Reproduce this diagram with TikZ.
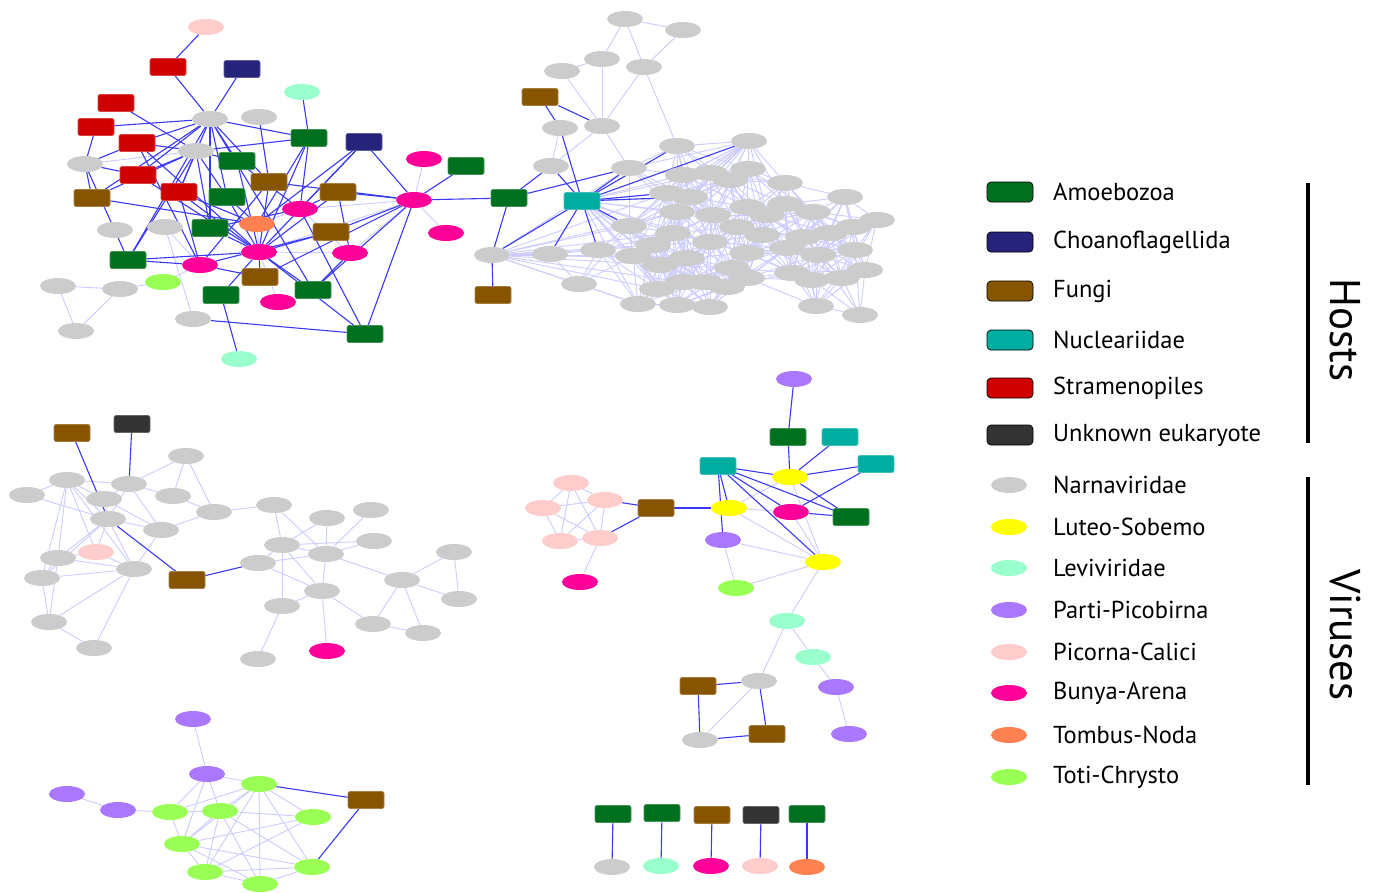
\documentclass[tikz,border=0pt]{standalone}
\usepackage{fontspec}
\setmainfont{PT Sans}
\usetikzlibrary{backgrounds,shapes.geometric}
\definecolor{hamoe}{HTML}{00701E}
\definecolor{hchoa}{HTML}{25247A}
\definecolor{hfungi}{HTML}{875400}
\definecolor{hnucl}{HTML}{00ADA0}
\definecolor{hstram}{HTML}{D10000}
\definecolor{hunk}{HTML}{333333}
\definecolor{vnarna}{HTML}{CCCCCC}
\definecolor{vluteo}{HTML}{FFFF00}
\definecolor{vlevi}{HTML}{99FFCC}
\definecolor{vparti}{HTML}{AA77FF}
\definecolor{vpicor}{HTML}{FFCCCC}
\definecolor{vbunya}{HTML}{FF0099}
\definecolor{vtombus}{HTML}{FF8050}
\definecolor{vtoti}{HTML}{99FF55}
\definecolor{edark}{HTML}{3A3AF5}
\definecolor{elight}{HTML}{CCCCFF}
\tikzset{
  host/.style={rectangle,rounded corners=2pt,minimum width=36pt,minimum height=17pt,inner sep=0pt,draw=#1!75!white,fill=#1,line width=0.6pt},
  vir/.style={ellipse,minimum width=36pt,minimum height=16pt,inner sep=0pt,fill=#1},
  dl/.style={draw=edark,line width=1.1pt},
  ll/.style={draw=elight,line width=0.9pt},
  keyh/.style={rectangle,rounded corners=4pt,minimum width=46pt,minimum height=20pt,inner sep=0pt,draw=black,line width=0.7pt,fill=#1},
  keyv/.style={ellipse,minimum width=36pt,minimum height=16pt,inner sep=0pt,fill=#1},
  keyt/.style={anchor=west,font=\fontsize{24.5}{28}\selectfont,inner sep=0pt},
  bar/.style={draw=black,line width=3.5pt},
  grp/.style={font=\fontsize{43}{48}\selectfont,rotate=-90,inner sep=0pt},
}
\def\cloud{677/146,749/141,629/168,748/169,683/175,710/173,730/180,785/183,667/193,690/197,845/197,677/212,713/215,747/207,785/204,767/215,813/212,877/220,629/226,737/227,762/235,803/237,830/233,853/227,673/233,653/245,710/242,598/250,633/256,747/253,787/248,818/255,855/250,660/265,687/258,732/268,747/278,792/273,812/280,842/278,865/270,657/289,683/282,705/282,727/287,638/304,677/305,710/307,816/306,860/315,550/254,579/284}

\begin{document}
\begin{tikzpicture}[x=1pt,y=-1pt]
  \useasboundingbox (0,0) rectangle (1379,892);
  \foreach \nm/\px/\py in {a1/237/161,a2/227/197,a3/309/138,a4/466/166,a5/210/228,a6/128/260,a7/221/295,a8/313/290,a9/365/334,a10/509/198,a11/788/437,a12/851/517,a13/613/814,a14/662/813,a15/807/814}
    \node[host=hamoe] (\nm) at (\px,\py) {};
  \foreach \nm/\px/\py in {c1/242/69,c2/364/142}
    \node[host=hchoa] (\nm) at (\px,\py) {};
  \foreach \nm/\px/\py in {f1/92/198,f2/269/182,f3/338/192,f4/331/232,f5/260/277,f6/540/97,f7/493/295,f8/72/433,f9/187/580,f10/656/508,f11/698/686,f12/767/734,f13/366/800,f14/712/815}
    \node[host=hfungi] (\nm) at (\px,\py) {};
  \foreach \nm/\px/\py in {nu1/582/201,nu2/840/437,nu3/718/466,nu4/876/464}
    \node[host=hnucl] (\nm) at (\px,\py) {};
  \foreach \nm/\px/\py in {s1/168/67,s2/116/103,s3/96/127,s4/137/143,s5/138/175,s6/179/192}
    \node[host=hstram] (\nm) at (\px,\py) {};
  \foreach \nm/\px/\py in {un1/132/424,un2/761/815}
    \node[host=hunk] (\nm) at (\px,\py) {};

  \foreach \nm/\px/\py in {n1/210/119,n2/196/151,n3/85/164,n4/259/117,n5/115/230,n6/165/227,n7/58/286,n8/120/289,n9/76/331,n10/193/319,
      u1/625/19,u2/683/30,u3/602/59,u4/644/67,u5/562/71,u6/560/128,u7/602/126,u8/551/166,u9/492/255,
      m1/186/456,m2/67/480,m3/129/484,m4/27/495,m5/104/499,m6/173/496,m7/214/512,m8/108/519,m9/161/530,m10/58/558,
      m11/134/569,m12/42/578,m13/49/622,m14/94/648,m15/274/505,m16/327/518,m17/371/510,m18/282/545,m19/374/541,m20/326/554,
      m21/258/563,m22/454/552,m23/402/580,m24/322/591,m25/459/599,m26/282/606,m27/373/624,m28/423/633,m29/258/659,
      d1/759/681,d2/700/740,w1/612/867}
    \node[vir=vnarna] (\nm) at (\px,\py) {};
  \foreach \px/\py [count=\i] in \cloud
    \node[vir=vnarna] (k\i) at (\px,\py) {};
  \foreach \nm/\px/\py in {y1/790/477,y2/729/508,y3/823/562}
    \node[vir=vluteo] (\nm) at (\px,\py) {};
  \foreach \nm/\px/\py in {l1/302/92,l2/239/359,l3/787/621,l4/813/657,w2/661/866}
    \node[vir=vlevi] (\nm) at (\px,\py) {};
  \foreach \nm/\px/\py in {v1/794/379,v2/723/540,v3/836/687,v4/849/734,v5/193/719,v6/207/774,v7/67/794,v8/118/810}
    \node[vir=vparti] (\nm) at (\px,\py) {};
  \foreach \nm/\px/\py in {p1/206/27,p2/96/552,pc1/571/483,pc2/605/500,pc3/543/508,pc4/560/541,pc5/600/538,w4/760/866}
    \node[vir=vpicor] (\nm) at (\px,\py) {};
  \foreach \nm/\px/\py in {b1/424/159,b2/414/200,b3/300/209,b4/446/233,b5/259/252,b6/350/253,b7/200/265,b8/278/302,b9/327/651,b10/791/512,b11/580/582,w3/711/866}
    \node[vir=vbunya] (\nm) at (\px,\py) {};
  \foreach \nm/\px/\py in {t1/257/224,w5/807/867}
    \node[vir=vtombus] (\nm) at (\px,\py) {};
  \foreach \nm/\px/\py in {g1/163/282,g2/736/588,e1/259/784,e2/170/812,e3/220/811,e4/313/817,e5/182/844,e6/205/872,e7/312/867,e8/260/884}
    \node[vir=vtoti] (\nm) at (\px,\py) {};

  \begin{pgfonlayer}{background}
    \fill[white] (0,0) rectangle (1379,892);
    \foreach \ax/\ay [count=\i] in \cloud {
      \foreach \bx/\by [count=\j] in \cloud {
        \pgfmathtruncatemacro\near{(\i<\j)&&(veclen(\ax-\bx,\ay-\by)<78)}
        \ifnum\near=1 \draw[ll] (k\i) -- (k\j);\fi
      }
    }
    \foreach \i in {51,28,19,26,29,34,25,3,9,12,35,42,46,52,43}
      \draw[ll] (u9) -- (k\i);
    \foreach \i in {5,6,9,10,12,13,25,26,27,29,34,35,42,43,44,46,47}
      \draw[ll] (nu1) -- (k\i);
    \foreach \i in {3,5,6,9,10,12,13,19,25}
      \draw[ll] (k2) -- (k\i);
    \foreach \ea/\eb in {n1/n2,n2/n3,n7/n8,n7/n9,n9/n8,n8/g1,g1/b7,n6/n10,n6/b7,t1/b5,b3/b5,b5/b6,b2/b3,b2/b5,b6/b2,b1/b2,b4/b2,b8/b5,t1/b3,b3/b6,
        u1/u2,u1/u3,u1/u4,u2/u4,u3/u5,u3/u7,u5/u7,u4/u7,u4/k1,u7/u8,u6/u8,u7/k3,u9/k51,
        m2/m4,m2/m3,m2/m5,m2/m8,m2/m10,m2/m12,m2/p2,m2/m11,m4/m8,m3/m1,m3/m6,m3/m5,m3/m9,m3/m8,m1/m6,m1/m7,m6/m7,m7/m9,m5/m8,m5/m9,
        m8/m9,m8/m10,m8/m11,m8/p2,m8/m12,p2/m10,p2/m11,m10/m11,m10/m12,m12/m11,m10/m13,m12/m13,m13/m11,m13/m14,m14/m11,m11/m9,
        m7/m15,m15/m18,m15/m20,m16/m18,m16/m20,m17/m20,m18/m20,m18/m19,m19/m20,m18/m21,m20/m21,m18/m24,m20/m24,m21/m24,m20/m23,
        m23/m22,m23/m25,m22/m25,m23/m27,m23/m28,m27/m28,m24/m27,m24/b9,m26/m24,m26/m18,m26/m29,
        pc1/pc3,pc1/pc2,pc1/pc4,pc1/pc5,pc3/pc2,pc3/pc4,pc3/pc5,pc2/pc4,pc2/pc5,pc4/pc5,pc5/b11,y2/b10,y2/y1,y2/y3,v2/y3,v2/g2,
        g2/y3,y1/y3,b10/y3,y3/l3,l3/l4,l3/d1,l4/v3,v3/v4,d1/d2,
        v5/v6,v7/v8,v8/e2,v6/e1,v6/e2,v6/e3,v6/e5,e1/e2,e1/e3,e1/e4,e1/e5,e1/e6,e1/e8,e1/e7,e2/e3,e2/e5,e3/e5,e3/e4,e3/e6,e3/e7,
        e5/e4,e5/e6,e5/e7,e5/e8,e6/e4,e6/e7,e6/e8,e7/e8,e3/e8}
      \draw[ll] (\ea) -- (\eb);
    \foreach \ea/\eb in {s1/p1,s1/n1,c1/n1,s2/n2,s3/n1,s3/n3,s4/n1,s4/n3,s4/n2,s4/b5,s4/b7,s5/n1,s5/n2,s5/n3,s5/b5,
        s6/n1,s6/n2,s6/b5,s6/b7,s6/t1,f1/n3,f1/n1,f1/t1,f1/n2,n3/a6,a6/n2,a6/n1,a6/b7,a6/b5,
        a1/n1,a1/b5,a1/n2,a1/b3,a2/n1,a2/b5,a2/n2,a2/t1,a3/l1,a3/n2,a3/b5,a3/b3,a3/t1,a3/n1,
        c2/b2,c2/b5,c2/b3,c2/t1,f2/n4,f2/b5,f2/b2,f2/n1,f2/b7,f3/b2,f3/b6,f3/b3,f3/b5,a4/b2,
        f4/b2,f4/b5,f4/b7,a5/n1,a5/b5,a5/n2,a5/b3,a7/l2,a7/b5,f5/b7,f5/b5,f5/b2,
        a8/b5,a8/b2,a8/b6,a8/n1,a9/b2,a9/n10,a9/b5,a9/b3,b2/a10,
        f6/u6,f6/u7,a10/u8,a10/k3,a10/u9,nu1/u8,nu1/u6,nu1/k2,nu1/k1,nu1/k3,nu1/k9,nu1/k10,nu1/k19,nu1/k28,nu1/k51,nu1/u9,f7/u9,
        f8/m8,un1/m3,m8/f9,f9/m21,
        v1/a11,a11/y1,nu2/y1,nu4/y1,nu4/b10,nu3/y1,nu3/y2,nu3/v2,nu3/b10,nu3/y3,nu3/a12,y1/a12,b10/a12,f10/y2,f10/pc2,f10/pc5,
        f11/d1,f11/d2,d1/f12,d2/f12,e1/f13,e7/f13,
        a13/w1,a14/w2,f14/w3,un2/w4,a15/w5}
      \draw[dl] (\ea) -- (\eb);
  \end{pgfonlayer}

  \foreach \cl/\txt/\py [count=\i] in {hamoe/Amoebozoa/192,hchoa/Choanoflagellida/242,hfungi/Fungi/291,hnucl/Nucleariidae/340,hstram/Stramenopiles/388,hunk/Unknown eukaryote/435}{
    \node[keyh=\cl] (hk\i) at (1010,\py) {};
    \node[keyt] (ht\i) at (1053,\py) {\txt};
  }
  \foreach \cl/\txt/\py [count=\i] in {vnarna/Narnaviridae/485,vluteo/Luteo-Sobemo/527,vlevi/Leviviridae/568,vparti/Parti-Picobirna/610,vpicor/Picorna-Calici/652,vbunya/Bunya-Arena/693,vtombus/Tombus-Noda/735,vtoti/Toti-Chrysto/777}{
    \node[keyv=\cl] (vk\i) at (1009,\py) {};
    \node[keyt] (vt\i) at (1053,\py) {\txt};
  }
  \coordinate (htop) at (1308,183);
  \coordinate (hbot) at (1308,443);
  \coordinate (vtop) at (1308,477);
  \coordinate (vbot) at (1308,785);
  \draw[bar] (htop) -- (hbot);
  \draw[bar] (vtop) -- (vbot);
  \node[grp] (hosts) at (1345,330) {Hosts};
  \node[grp] (viruses) at (1345,635) {Viruses};
\end{tikzpicture}
\end{document}
